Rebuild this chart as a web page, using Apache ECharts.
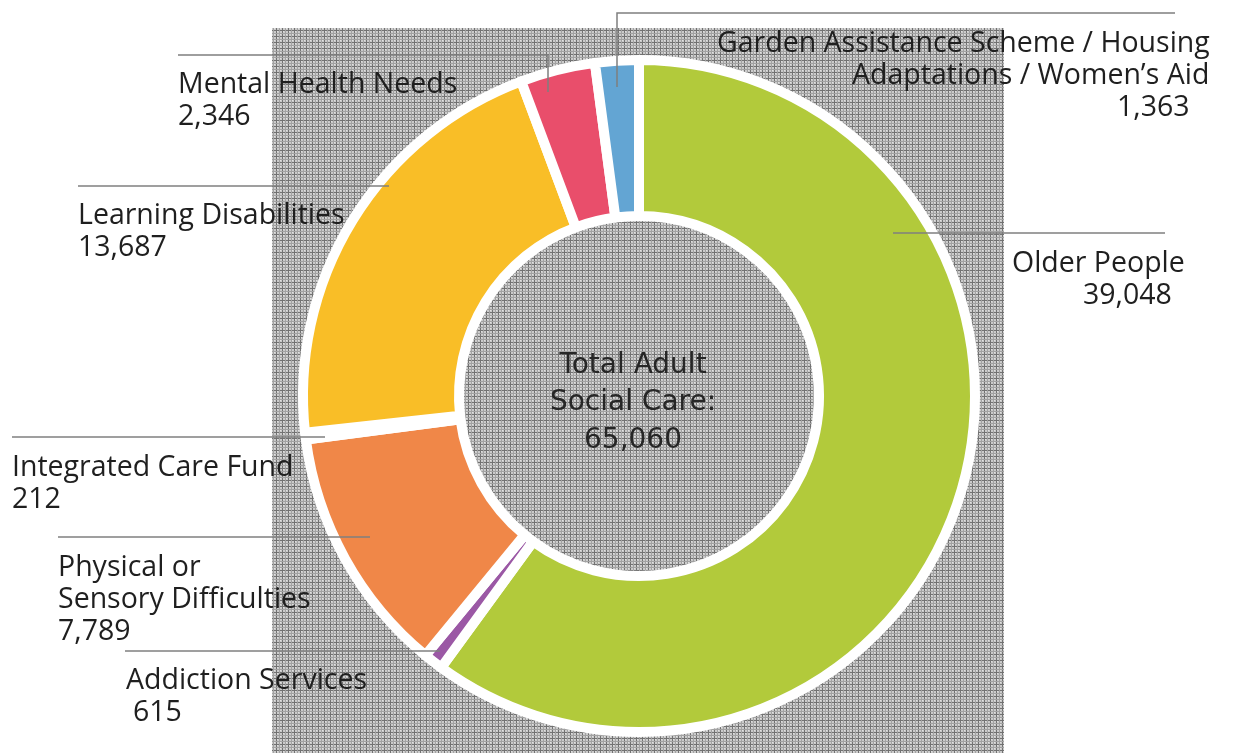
<!DOCTYPE html>
<html>
<head>
<meta charset="utf-8">
<script src="https://cdn.jsdelivr.net/npm/echarts@6/dist/echarts.min.js"></script>
<style>
html,body{margin:0;padding:0;background:#fff;}
#main{width:1245px;height:753px;}
</style>
</head>
<body>
<div id="main"></div>
<script>
// ---- data ----
const categories = [
  'Older People',
  'Addiction Services',
  'Physical or\nSensory Difficulties',
  'Integrated Care Fund',
  'Learning Disabilities',
  'Mental Health Needs',
  'Garden Assistance Scheme / Housing\nAdaptations / Women\u2019s Aid'
];
const values = [39048, 615, 7789, 212, 13687, 2346, 1363];
const centerTitle = ['Total Adult', 'Social Care:'];

// ---- styles ----
const colors = ['#b2ca3b', '#9b58a5', '#f08748', '#a5a5a5', '#f9be27', '#e94e6b', '#63a5d3'];
const labelPos = [
  {x: 1012, y: 248, pads: [0, 71],        line: [[893,233],[1029,233],[1165,233]]},
  {x: 126,  y: 665, pads: [0, 7],         line: [[440,651],[282,651],[125,651]]},
  {x: 58,   y: 552, pads: [0, 0, 0],      line: [[370,537],[214,537],[58,537]]},
  {x: 12,   y: 452, pads: [0, 0],         line: [[325,437],[168,437],[12,437]]},
  {x: 78,   y: 200, pads: [0, 0],         line: [[389,186],[233,186],[78,186]]},
  {x: 178,  y: 69,  pads: [0, 0],         line: [[548,92],[548,55],[178,55]]},
  {x: 717,  y: 28,  pads: [0, 135, 400],  line: [[617,87],[617,13],[1175,13]]}
];
const labelFont = {fontFamily: 'Open Sans', fontSize: 28.5, color: '#1f1f1f', lineHeight: 32};

const fmt = v => v.toLocaleString('en-US');
const total = values.reduce((a, b) => a + b, 0);

// background pattern
const pc = document.createElement('canvas');
pc.width = 6; pc.height = 6;
const g = pc.getContext('2d');
g.fillStyle = '#cbcbcb'; g.fillRect(0, 0, 6, 6);
g.fillStyle = '#727272'; g.fillRect(0, 0, 6, 1); g.fillRect(0, 0, 1, 6);
g.fillStyle = '#a2a2a2'; g.fillRect(3, 0, 1, 6); g.fillRect(0, 3, 6, 1);
g.fillStyle = '#e2e2e2'; g.fillRect(1, 1, 1, 1); g.fillRect(4, 4, 1, 1);

const sliceData = categories.map((name, i) => ({
  name: name, value: values[i], itemStyle: {color: colors[i]}
}));

const labelData = categories.map((name, i) => {
  const lines = name.split('\n').concat([fmt(values[i])]);
  const rich = {};
  lines.forEach((l, k) => {
    rich['l' + k] = Object.assign({padding: [0, 0, 0, labelPos[i].pads[k] || 0]}, labelFont);
  });
  return {
    name: name,
    value: values[i],
    label: {
      formatter: lines.map((l, k) => '{l' + k + '|' + l + '}').join('\n'),
      rich: rich
    }
  };
});

const common = {
  type: 'pie',
  center: [639, 396],
  radius: [180, 336],
  startAngle: 90,
  clockwise: true,
  avoidLabelOverlap: false,
  silent: true,
  emphasis: {disabled: true}
};

const chart = echarts.init(document.getElementById('main'), null, {renderer: 'canvas'});
chart.setOption({
  animation: false,
  graphic: [
    {type: 'rect', z: 0, shape: {x: 272, y: 28, width: 732, height: 725},
     style: {fill: {image: pc, repeat: 'repeat'}}},
    {type: 'text', z: 100, x: 633, y: 403,
     style: {text: centerTitle.join('\n') + '\n' + fmt(total), align: 'center', verticalAlign: 'middle',
             fontFamily: 'DejaVu Sans', fontSize: 28, lineHeight: 37.5, fill: '#262626'}}
  ],
  series: [
    Object.assign({}, common, {
      z: 5,
      itemStyle: {borderColor: '#ffffff', borderWidth: 10},
      label: {show: false},
      labelLine: {show: false},
      data: sliceData
    }),
    Object.assign({}, common, {
      z: 10,
      itemStyle: {color: 'rgba(0,0,0,0)', borderWidth: 0},
      label: Object.assign({show: true, position: 'outside'}, labelFont),
      labelLine: {show: true, lineStyle: {color: '#7f7f7f', width: 1.5}},
      labelLayout: function (params) {
        const L = labelPos[params.dataIndex];
        return {x: L.x, y: L.y, align: 'left', verticalAlign: 'top', labelLinePoints: L.line};
      },
      data: labelData
    })
  ]
});
</script>
</body>
</html>
